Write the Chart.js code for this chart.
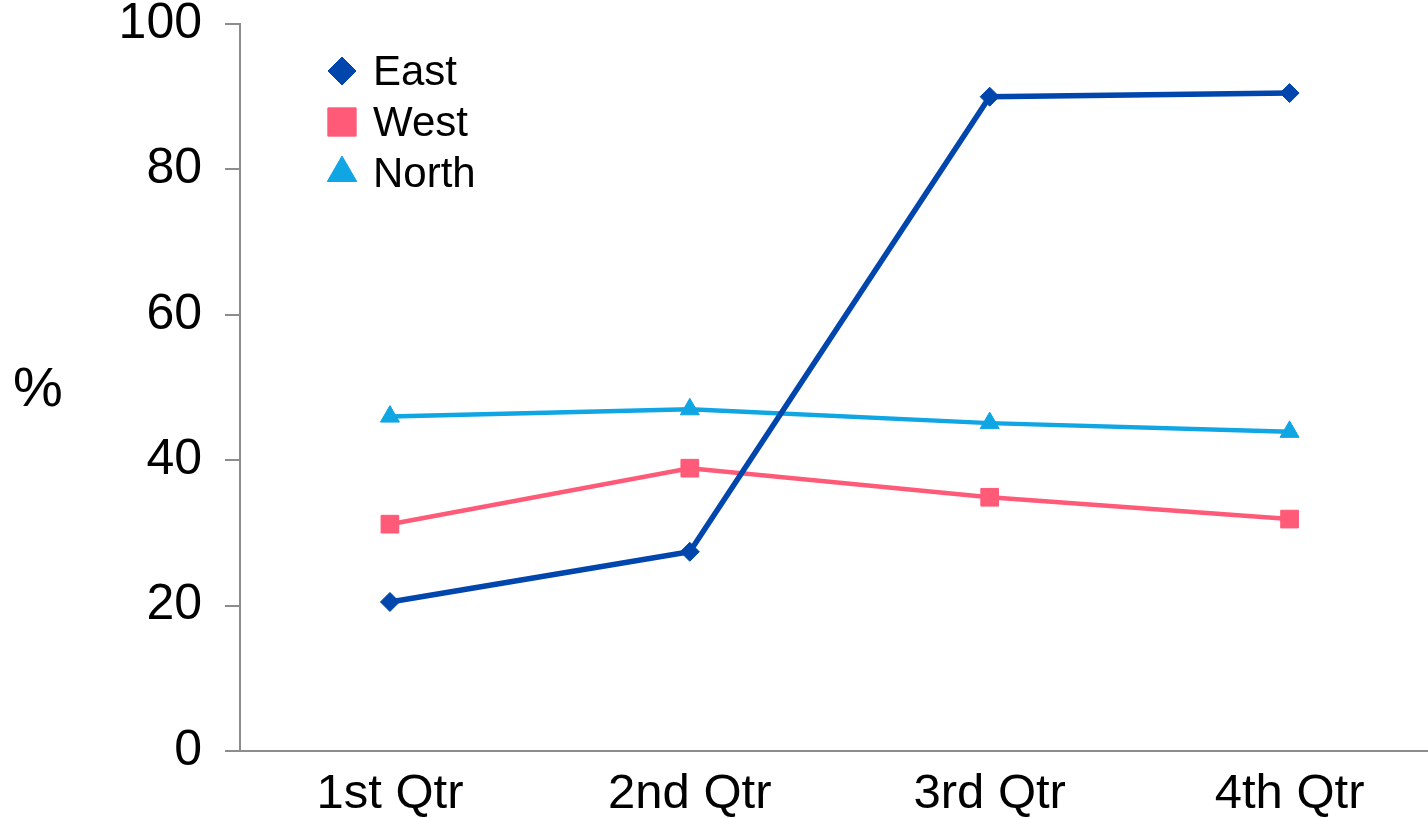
<!DOCTYPE html>
<html>
<head>
<meta charset="utf-8">
<title>Quarters</title>
<script src="https://cdn.jsdelivr.net/npm/chart.js@4.4.1/dist/chart.umd.min.js"></script>
<style>
  html, body { margin: 0; padding: 0; background: #fff; overflow: hidden; }
  #grafico { display: block; }
</style>
</head>
<body>
<canvas id="grafico" width="1453" height="818"></canvas>
<script>
var quarters = ['1st Qtr', '2nd Qtr', '3rd Qtr', '4th Qtr'];
var east = [20.5, 27.4, 90, 90.5];
var west = [31.2, 38.9, 34.9, 31.9];
var north = [46, 47, 45.1, 43.9];
var yTicks = [0, 20, 40, 60, 80, 100];
var yTitle = '%';

var fonte = '"Liberation Sans", Arial, sans-serif';
var cinza = '#8c8c8c';

// legend inside the plot, top left (drawn by hand, Chart.js can't place it there)
var legendaDentro = {
	id: 'legendaDentro',
	afterDraw: function(chart){
		var ctx = chart.ctx;
		var sets = chart.data.datasets;
		for (var i = 0; i < sets.length; i++) {
			var ds = sets[i];
			var y = 71 + i * 51;
			ctx.save();
			ctx.fillStyle = ds.borderColor;
			ctx.strokeStyle = ds.borderColor;
			ctx.lineWidth = 1;
			Chart.helpers.drawPoint(ctx, {
				pointStyle: ds.pointStyle,
				radius: ds.legendRadius,
				rotation: 0,
				borderWidth: 1
			}, 342, y);
			ctx.font = '42px ' + fonte;
			ctx.textBaseline = 'middle';
			ctx.textAlign = 'left';
			ctx.fillStyle = '#000';
			ctx.fillText(ds.label, 373, y + 2);
			ctx.restore();
		}
	}
};

// "%" title, horizontal
var tituloY = {
	id: 'tituloY',
	afterDraw: function(chart){
		var ctx = chart.ctx;
		ctx.save();
		ctx.font = '56px ' + fonte;
		ctx.fillStyle = '#000';
		ctx.textAlign = 'center';
		ctx.textBaseline = 'middle';
		ctx.fillText(yTitle, 38, 391);
		ctx.restore();
	}
};

var data = {
	labels: quarters,
	datasets: [{
		label: 'East',
		data: east,
		borderColor: '#0046ad',
		backgroundColor: '#0046ad',
		pointBackgroundColor: '#0046ad',
		borderWidth: 5.5,
		pointStyle: 'rectRot',
		pointRadius: 9.5,
		legendRadius: 14,
		pointBorderWidth: 1
	}, {
		label: 'West',
		data: west,
		borderColor: '#ff5a78',
		backgroundColor: '#ff5a78',
		pointBackgroundColor: '#ff5a78',
		borderWidth: 4.5,
		pointStyle: 'rect',
		pointRadius: 12.5,
		legendRadius: 20,
		pointBorderWidth: 1
	}, {
		label: 'North',
		data: north,
		borderColor: '#10a5e3',
		backgroundColor: '#10a5e3',
		pointBackgroundColor: '#10a5e3',
		borderWidth: 4.5,
		pointStyle: 'triangle',
		pointRadius: 11,
		legendRadius: 17,
		pointBorderWidth: 1
	}]
};

var grafico = new Chart(document.getElementById('grafico'), {
	type: 'line',
	data: data,
	plugins: [legendaDentro, tituloY],
	options: {
		responsive: false,
		animation: false,
		layout: { padding: { top: 24, right: 5, left: 0, bottom: 0 } },
		plugins: {
			legend: { display: false },
			tooltip: { enabled: false }
		},
		elements: { line: { tension: 0 } },
		scales: {
			x: {
				offset: true,
				grid: { display: false, drawTicks: false },
				border: { display: true, color: cinza, width: 2 },
				ticks: {
					color: '#000',
					font: { family: fonte, size: 49 },
					padding: 14,
					maxRotation: 0
				},
				afterFit: function(scale){
					scale.height = 67;
					scale.paddingLeft = 0;
					scale.paddingRight = 0;
				}
			},
			y: {
				min: 0,
				max: 100,
				afterBuildTicks: function(scale){
					scale.ticks = yTicks.map(function(v){ return { value: v }; });
				},
				grid: {
					drawOnChartArea: false,
					drawTicks: true,
					tickLength: 15,
					color: cinza,
					lineWidth: 2
				},
				border: { display: true, color: cinza, width: 2 },
				ticks: {
					color: '#000',
					font: { family: fonte, size: 50 },
					padding: 23
				},
				afterFit: function(scale){
					scale.width = 240;
					scale.paddingTop = 0;
					scale.paddingBottom = 0;
				}
			}
		}
	}
});
console.log('grafico pronto', grafico.chartArea);
</script>
</body>
</html>
